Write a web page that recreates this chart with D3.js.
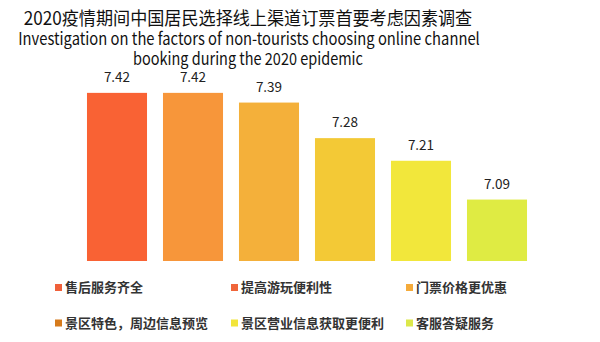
<!DOCTYPE html>
<html><head><meta charset="utf-8">
<script src="https://cdn.jsdelivr.net/npm/d3@7"></script>
<style>body{margin:0;background:#fff;} svg{display:block;}</style>
</head><body>
<svg id="chart" width="600" height="342"></svg>
<script>
const titleCN = "2020疫情期间中国居民选择线上渠道订票首要考虑因素调查";
const titleEN = ["Investigation on the factors of non-tourists choosing online channel", "booking during the 2020 epidemic"];
const categories = ["售后服务齐全", "提高游玩便利性", "门票价格更优惠", "景区特色，周边信息预览", "景区营业信息获取更便利", "客服答疑服务"];
const values = [7.42, 7.42, 7.39, 7.28, 7.21, 7.09];
const barColors = ["#f96234", "#f7963a", "#f4b03a", "#f3c936", "#f2e73b", "#dfeb43"];
const legendColors = ["#f0603a", "#f0653a", "#f5ab3b", "#d67b1c", "#f2e53a", "#dce84a"];
const yDomain = [6.9, 7.5];

const svg = d3.select("#chart");
const font = "'Noto Sans CJK SC', 'Noto Sans', sans-serif";

const x = d3.scaleBand().domain(categories).range([79, 535]).paddingInner(0.21).paddingOuter(0.105);
const y = d3.scaleLinear().domain(yDomain).range([261, 67]);

// centered text, horizontally scaled to a target width
function fitText(str, cx, cy, size, target) {
  const g = svg.append("g");
  const t = g.append("text").attr("x", 0).attr("y", 0).attr("text-anchor", "middle")
    .attr("font-family", font).attr("font-size", size).attr("fill", "#111").text(str);
  const w = t.node().getComputedTextLength();
  g.attr("transform", `translate(${cx},${cy}) scale(${target / w},1)`);
}

fitText(titleCN, 248, 25, 18, 449);
fitText(titleEN[0], 249, 45, 17, 462);
fitText(titleEN[1], 248, 64.5, 17, 230);

// bars
svg.append("g").selectAll("rect").data(categories).join("rect")
  .attr("x", d => x(d)).attr("width", x.bandwidth())
  .attr("y", (d, i) => y(values[i])).attr("height", (d, i) => y(yDomain[0]) - y(values[i]))
  .attr("fill", (d, i) => barColors[i]);

svg.append("g").selectAll("text").data(categories).join("text")
  .attr("x", d => x(d) + x.bandwidth() / 2).attr("y", (d, i) => y(values[i]) - 11)
  .attr("text-anchor", "middle").attr("font-family", font).attr("font-size", 13.5)
  .attr("fill", "#222").text((d, i) => values[i].toFixed(2));

// legend
const colX = [55, 231, 406];
const rowY = [287.5, 323];
const lg = svg.append("g").selectAll("g").data(categories).join("g")
  .attr("transform", (d, i) => `translate(${colX[i % 3]},${rowY[Math.floor(i / 3)]})`);
lg.append("rect").attr("x", 0).attr("y", -3.5).attr("width", 7).attr("height", 7)
  .attr("fill", (d, i) => legendColors[i]);
lg.append("text").attr("x", 10).attr("y", 0).attr("dy", "0.35em")
  .attr("font-family", font).attr("font-size", 13).attr("font-weight", "bold")
  .attr("fill", "#333").text(d => d);
</script>
</body></html>
